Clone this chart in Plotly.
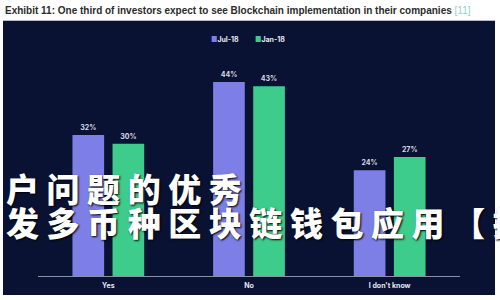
import plotly.graph_objects as go

W, H = 500, 300

categories = ["Yes", "No", "I don't know"]
jul18 = [32, 44, 24]
jan18 = [30, 43, 27]
series_names = ["Jul-18", "Jan-18"]

title_text = "Exhibit 11: One third of investors expect to see Blockchain implementation in their companies"
title_ref = "[11]"
overlay_line1 = "户问题的优秀"
overlay_line2 = "发多币种区块链钱包应用【抟"

JUL_COLOR = "#7d7fe6"
JAN_COLOR = "#3dcc8c"
PANEL = "#0a1233"


def px_x(x):
    return x / W


def px_y(y):
    return 1 - y / H


fig = go.Figure()
for name, vals, col in [(series_names[0], jul18, JUL_COLOR), (series_names[1], jan18, JAN_COLOR)]:
    fig.add_trace(go.Bar(
        name=name, x=categories, y=vals, marker_color=col, marker_line_width=0,
        text=[f"{v}%" for v in vals], textposition="outside", cliponaxis=False,
        textfont=dict(size=7, color="#d8dbe6", family="Inter", weight="bold"),
        showlegend=False,
    ))

annotations = [
    dict(x=px_x(3), y=px_y(11), xref="paper", yref="paper", xanchor="left", yanchor="middle",
         showarrow=False,
         text=f"<b>{title_text}</b> <span style='color:#8fd3c8'>{title_ref}</span>",
         font=dict(size=10, color="#2b2b2b", family="Liberation Sans")),
]

# compact legend: coloured square followed by series name
for name, col, xpix in [(series_names[0], JUL_COLOR, 209), (series_names[1], JAN_COLOR, 253)]:
    annotations.append(dict(
        x=px_x(xpix), y=px_y(39), xref="paper", yref="paper", xanchor="left", yanchor="middle",
        showarrow=False,
        text=f"<span style='color:{col}'>■</span>{name}",
        font=dict(size=7, color="#e6e8f0", family="Inter", weight="bold"),
    ))

cjk_font = dict(size=33, color="#ffffff", family="Noto Sans CJK SC", weight=900,
                shadow="1px 1px 2px #000000")
for line, ypix in [(overlay_line1, 188), (overlay_line2, 222)]:
    annotations.append(dict(
        x=px_x(4), y=px_y(ypix), xref="paper", yref="paper", xanchor="left", yanchor="middle",
        showarrow=False, text=" ".join(line), font=cjk_font,
    ))

fig.update_layout(
    width=W, height=H, margin=dict(l=0, r=0, t=0, b=0),
    paper_bgcolor="#ffffff", plot_bgcolor="rgba(0,0,0,0)",
    barmode="group", bargap=0.43, bargroupgap=0.21,
    xaxis=dict(domain=[px_x(38), px_x(460)], showline=True, linecolor="#8a90a8", linewidth=1,
               ticks="outside", ticklen=3, tickcolor="rgba(0,0,0,0)", showgrid=False,
               tickfont=dict(size=7, color="#e6e8f0", family="Inter", weight="bold"),
               fixedrange=True),
    yaxis=dict(domain=[px_y(276), px_y(55.5)], range=[0, 50], visible=False, fixedrange=True),
    shapes=[
        dict(type="rect", xref="paper", yref="paper", x0=px_x(3), x1=px_x(495),
             y0=px_y(295), y1=px_y(21), fillcolor=PANEL, line=dict(width=0), layer="below"),
        dict(type="line", xref="paper", yref="paper", x0=px_x(3), x1=px_x(495),
             y0=px_y(20.5), y1=px_y(20.5), line=dict(color="#b8bcc8", width=1)),
    ],
    annotations=annotations,
    showlegend=False,
)

fig.write_html("out.html")
